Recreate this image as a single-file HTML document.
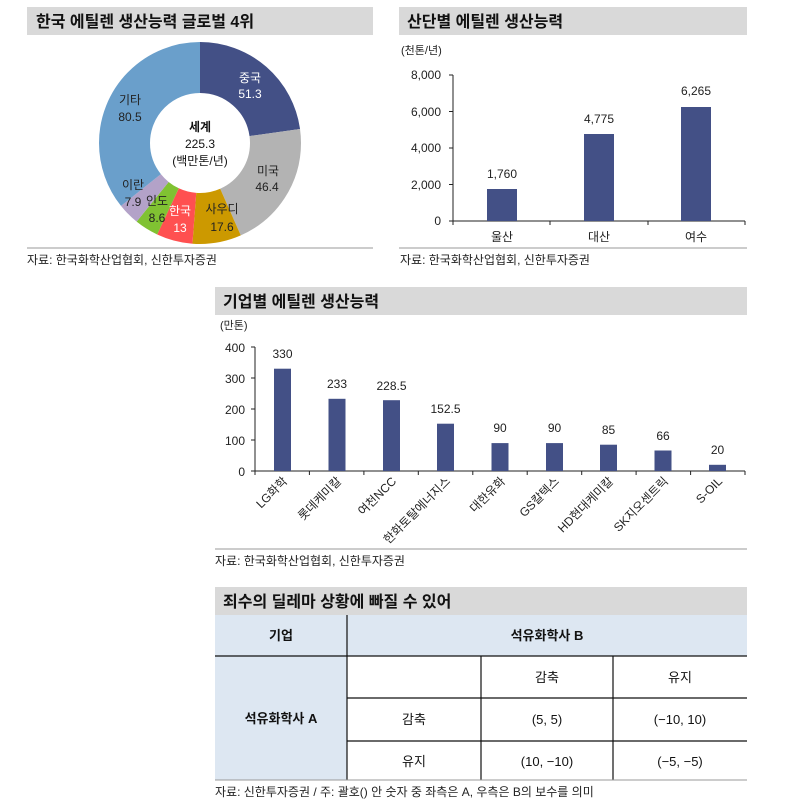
<!DOCTYPE html>
<html><head><meta charset="utf-8"><style>
body{margin:0;background:#fff;width:788px;height:806px;overflow:hidden;font-family:"Liberation Sans","Noto Sans CJK KR",sans-serif;}
svg text{font-family:"Liberation Sans","Noto Sans CJK KR",sans-serif;}
</style></head><body>
<svg width="788" height="806" viewBox="0 0 788 806" xmlns="http://www.w3.org/2000/svg" style="position:absolute;left:0;top:0">
<!-- title bars -->
<rect x="27" y="7" width="346" height="28" fill="#d9d9d9"/>
<text x="36" y="27" font-size="16" font-weight="bold" fill="#111">한국 에틸렌 생산능력 글로벌 4위</text>
<rect x="399" y="7" width="348" height="28" fill="#d9d9d9"/>
<text x="407" y="27" font-size="16" font-weight="bold" fill="#111">산단별 에틸렌 생산능력</text>
<rect x="215" y="287" width="532" height="28" fill="#d9d9d9"/>
<text x="223" y="307" font-size="16" font-weight="bold" fill="#111">기업별 에틸렌 생산능력</text>
<rect x="215" y="587" width="532" height="28" fill="#d9d9d9"/>
<text x="223" y="607" font-size="16" font-weight="bold" fill="#111">죄수의 딜레마 상황에 빠질 수 있어</text>

<!-- donut -->
<g transform="rotate(-90 200 143)" fill="none" stroke-width="51">
<circle cx="200" cy="143" r="75.5" stroke="#435086" stroke-dasharray="108.02 474.38" stroke-dashoffset="0"/>
<circle cx="200" cy="143" r="75.5" stroke="#b3b3b3" stroke-dasharray="97.70 474.38" stroke-dashoffset="-108.02"/>
<circle cx="200" cy="143" r="75.5" stroke="#cc9900" stroke-dasharray="37.06 474.38" stroke-dashoffset="-205.72"/>
<circle cx="200" cy="143" r="75.5" stroke="#ff5050" stroke-dasharray="27.37 474.38" stroke-dashoffset="-242.78"/>
<circle cx="200" cy="143" r="75.5" stroke="#80c232" stroke-dasharray="18.11 474.38" stroke-dashoffset="-270.15"/>
<circle cx="200" cy="143" r="75.5" stroke="#b3a2c8" stroke-dasharray="16.63 474.38" stroke-dashoffset="-288.26"/>
<circle cx="200" cy="143" r="75.5" stroke="#6a9fcb" stroke-dasharray="169.50 474.38" stroke-dashoffset="-304.89"/>
</g>
<g font-size="12" text-anchor="middle">
<text x="250" y="82" fill="#fff">중국</text><text x="250" y="98" fill="#fff">51.3</text>
<text x="130" y="104" fill="#222">기타</text><text x="130" y="121" fill="#222">80.5</text>
<text x="268" y="175" fill="#222">미국</text><text x="267" y="191" fill="#222">46.4</text>
<text x="222" y="213" fill="#222">사우디</text><text x="222" y="231" fill="#222">17.6</text>
<text x="180" y="215" fill="#fff">한국</text><text x="180" y="232" fill="#fff">13</text>
<text x="157" y="205" fill="#222">인도</text><text x="157" y="222" fill="#222">8.6</text>
<text x="133" y="189" fill="#222">이란</text><text x="133" y="206" fill="#222">7.9</text>
<text x="200" y="131" fill="#111" font-weight="bold">세계</text>
<text x="200" y="148" fill="#111">225.3</text>
<text x="200" y="165" fill="#111">(백만톤/년)</text>
</g>
<line x1="27" y1="248" x2="373" y2="248" stroke="#999"/>
<text x="27" y="264" font-size="12" fill="#222">자료: 한국화학산업협회, 신한투자증권</text>

<!-- right bar chart -->
<text x="401" y="54" font-size="11" fill="#222">(천톤/년)</text>
<g font-size="12" fill="#222" text-anchor="end">
<text x="441" y="79">8,000</text><text x="441" y="116">6,000</text><text x="441" y="152">4,000</text><text x="441" y="189">2,000</text><text x="441" y="225">0</text>
</g>
<g stroke="#222">
<line x1="453" y1="75" x2="453" y2="221"/><line x1="453" y1="221" x2="745" y2="221"/>
<line x1="449" y1="75" x2="453" y2="75"/><line x1="449" y1="111.5" x2="453" y2="111.5"/><line x1="449" y1="148" x2="453" y2="148"/><line x1="449" y1="184.5" x2="453" y2="184.5"/><line x1="449" y1="221" x2="453" y2="221"/>
<line x1="453" y1="221" x2="453" y2="225"/><line x1="550" y1="221" x2="550" y2="225"/><line x1="648" y1="221" x2="648" y2="225"/><line x1="745" y1="221" x2="745" y2="225"/>
</g>
<g fill="#435086">
<rect x="487" y="189" width="30" height="32"/><rect x="584" y="134" width="30" height="87"/><rect x="681" y="107" width="30" height="114"/>
</g>
<g font-size="12" fill="#222" text-anchor="middle">
<text x="502" y="178">1,760</text><text x="599" y="123">4,775</text><text x="696" y="95">6,265</text>
<text x="502" y="241">울산</text><text x="599" y="241">대산</text><text x="696" y="241">여수</text>
</g>
<line x1="399" y1="248" x2="747" y2="248" stroke="#999"/>
<text x="400" y="264" font-size="12" fill="#222">자료: 한국화학산업협회, 신한투자증권</text>

<!-- middle bar chart -->
<text x="220" y="329" font-size="11" fill="#222">(만톤)</text>
<g font-size="12" fill="#222" text-anchor="end">
<text x="245" y="352">400</text><text x="245" y="383">300</text><text x="245" y="414">200</text><text x="245" y="445">100</text><text x="245" y="476">0</text>
</g>
<g stroke="#222">
<line x1="255" y1="347" x2="255" y2="471"/><line x1="255" y1="471" x2="745" y2="471"/>
<line x1="251" y1="347" x2="255" y2="347"/><line x1="251" y1="378" x2="255" y2="378"/><line x1="251" y1="409" x2="255" y2="409"/><line x1="251" y1="440" x2="255" y2="440"/><line x1="251" y1="471" x2="255" y2="471"/>
<line x1="255" y1="471" x2="255" y2="475"/><line x1="309.4" y1="471" x2="309.4" y2="475"/><line x1="363.9" y1="471" x2="363.9" y2="475"/><line x1="418.3" y1="471" x2="418.3" y2="475"/><line x1="472.8" y1="471" x2="472.8" y2="475"/><line x1="527.2" y1="471" x2="527.2" y2="475"/><line x1="581.7" y1="471" x2="581.7" y2="475"/><line x1="636.1" y1="471" x2="636.1" y2="475"/><line x1="690.6" y1="471" x2="690.6" y2="475"/><line x1="745" y1="471" x2="745" y2="475"/>
</g>
<g fill="#435086">
<rect x="274" y="368.7" width="17" height="102.3"/>
<rect x="328.5" y="398.8" width="17" height="72.2"/>
<rect x="383" y="400.2" width="17" height="70.8"/>
<rect x="437" y="423.7" width="17" height="47.3"/>
<rect x="491.5" y="443.1" width="17" height="27.9"/>
<rect x="546" y="443.1" width="17" height="27.9"/>
<rect x="600" y="444.7" width="17" height="26.3"/>
<rect x="654.5" y="450.5" width="17" height="20.5"/>
<rect x="709" y="464.8" width="17" height="6.2"/>
</g>
<g font-size="12" fill="#222" text-anchor="middle">
<text x="282.5" y="358">330</text><text x="337" y="388">233</text><text x="391.5" y="390">228.5</text><text x="445.5" y="413">152.5</text><text x="500" y="432">90</text><text x="554.5" y="432">90</text><text x="608.5" y="434">85</text><text x="663" y="440">66</text><text x="717.5" y="454">20</text>
</g>
<g font-size="12" fill="#222" text-anchor="end">
<text transform="translate(288 482) rotate(-45)">LG화학</text>
<text transform="translate(342 482) rotate(-45)">롯데케미칼</text>
<text transform="translate(397 482) rotate(-45)">여천NCC</text>
<text transform="translate(451 482) rotate(-45)">한화토탈에너지스</text>
<text transform="translate(506 482) rotate(-45)">대한유화</text>
<text transform="translate(560 482) rotate(-45)">GS칼텍스</text>
<text transform="translate(614 482) rotate(-45)">HD현대케미칼</text>
<text transform="translate(669 482) rotate(-45)">SK지오센트릭</text>
<text transform="translate(723 482) rotate(-45)">S-OIL</text>
</g>
<line x1="215" y1="549" x2="747" y2="549" stroke="#999"/>
<text x="215" y="565" font-size="12" fill="#222">자료: 한국화학산업협회, 신한투자증권</text>

<!-- table -->
<rect x="215" y="615" width="532" height="41" fill="#dde7f2"/>
<rect x="215" y="656" width="132" height="124" fill="#dde7f2"/>
<g stroke="#111" stroke-width="1.2">
<line x1="347" y1="615" x2="347" y2="780"/>
<line x1="215" y1="656" x2="747" y2="656"/>
<line x1="481" y1="656" x2="481" y2="780"/>
<line x1="613" y1="656" x2="613" y2="780"/>
<line x1="347" y1="698" x2="747" y2="698"/>
<line x1="347" y1="741" x2="747" y2="741"/>
</g>
<line x1="215" y1="780" x2="747" y2="780" stroke="#999"/>
<g font-size="13" fill="#111" text-anchor="middle">
<text x="281" y="640" font-weight="bold">기업</text>
<text x="547" y="640" font-weight="bold">석유화학사 B</text>
<text x="281" y="723" font-weight="bold">석유화학사 A</text>
<text x="547" y="682">감축</text><text x="680" y="682">유지</text>
<text x="414" y="724">감축</text><text x="547" y="724">(5, 5)</text><text x="680" y="724">(−10, 10)</text>
<text x="414" y="766">유지</text><text x="547" y="766">(10, −10)</text><text x="680" y="766">(−5, −5)</text>
</g>
<text x="215" y="796" font-size="12" fill="#222">자료: 신한투자증권 / 주: 괄호() 안 숫자 중 좌측은 A, 우측은 B의 보수를 의미</text>
</svg>
</body></html>
